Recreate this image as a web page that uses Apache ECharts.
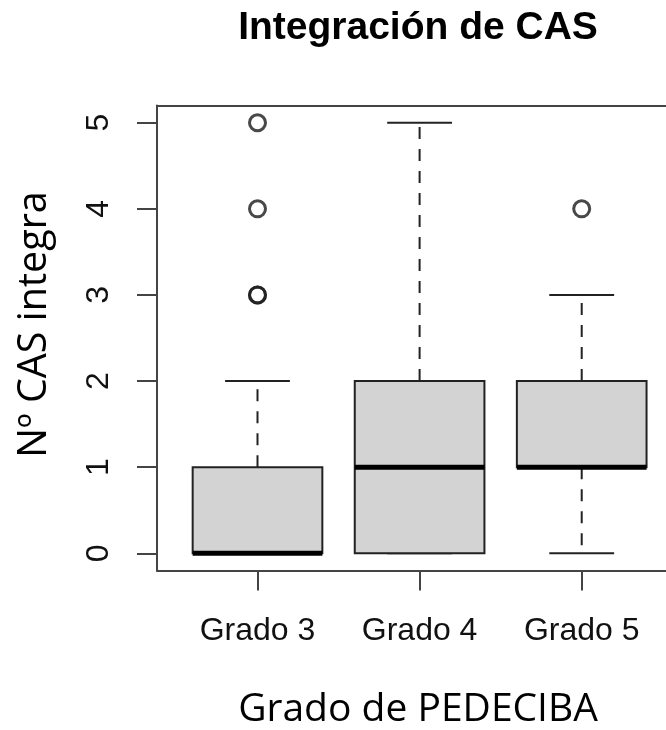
<!DOCTYPE html>
<html>
<head>
<meta charset="utf-8">
<script src="https://cdn.jsdelivr.net/npm/echarts@6/dist/echarts.min.js"></script>
<style>html,body{margin:0;padding:0;background:#fff}#c{width:666px;height:730px}</style>
</head>
<body>
<div id="c"></div>
<script>
// ---- data ----
const categories = ['Grado 3', 'Grado 4', 'Grado 5'];
const lowerWhisker = [0, 0, 0];
const q1 = [0, 0, 1];
const median = [0, 1, 1];
const q3 = [1, 2, 2];
const upperWhisker = [2, 5, 3];
const outliers = [[3, 3, 4, 5], [], [4]];
const yTicks = [0, 1, 2, 3, 4, 5];
const xTicks = [1, 2, 3];
const titleText = 'Integración de CAS';
const xTitle = 'Grado de PEDECIBA';
const yTitle = 'Nº CAS integra';

const boxData = categories.map((c, i) => [i + 1, lowerWhisker[i], q1[i], median[i], q3[i], upperWhisker[i]]);
const outlierData = [];
outliers.forEach((arr, i) => arr.forEach(v => outlierData.push([i + 1, v])));

const chart = echarts.init(document.getElementById('c'), null, {renderer: 'canvas'});
const lineCol = '#222';
const frameCol = '#444';

function renderBox(params, api) {
  const x = api.value(0);
  const lo = api.coord([x, api.value(1)]);
  const b1 = api.coord([x, api.value(2)]);
  const md = api.coord([x, api.value(3)]);
  const b3 = api.coord([x, api.value(4)]);
  const hi = api.coord([x, api.value(5)]);
  const bw = api.size([0.8, 0])[0];
  const cw = api.size([0.4, 0])[0];
  const cx = lo[0];
  const dash = {stroke: lineCol, lineWidth: 2, lineDash: [12, 10]};
  const solid = {stroke: lineCol, lineWidth: 2};
  return {
    type: 'group',
    children: [
      {type: 'line', shape: {x1: cx, y1: b3[1], x2: cx, y2: hi[1]}, style: dash},
      {type: 'line', shape: {x1: cx, y1: b1[1], x2: cx, y2: lo[1]}, style: dash},
      {type: 'line', shape: {x1: cx - cw / 2, y1: hi[1], x2: cx + cw / 2, y2: hi[1]}, style: solid},
      {type: 'line', shape: {x1: cx - cw / 2, y1: lo[1], x2: cx + cw / 2, y2: lo[1]}, style: solid},
      {type: 'rect', shape: {x: cx - bw / 2, y: b3[1], width: bw, height: b1[1] - b3[1]},
        style: {fill: '#d3d3d3', stroke: lineCol, lineWidth: 2}},
      {type: 'line', shape: {x1: cx - bw / 2, y1: md[1], x2: cx + bw / 2, y2: md[1]},
        style: {stroke: '#000', lineWidth: 5}}
    ]
  };
}

const option = {
  backgroundColor: '#fff',
  animation: false,
  grid: {left: 157, right: 0, top: 105.5, bottom: 159.5, containLabel: false},
  xAxis: [{
    type: 'value', min: 0.38, max: 3.52,
    axisLine: {show: true, onZero: false, lineStyle: {color: frameCol, width: 2}},
    axisTick: {show: true, customValues: xTicks, length: 20, lineStyle: {color: frameCol, width: 2}},
    axisLabel: {show: true, customValues: xTicks, margin: 45,
      formatter: v => categories[Math.round(v) - 1],
      fontFamily: 'Liberation Sans', fontSize: 32, color: '#111'},
    splitLine: {show: false}
  }, {
    type: 'value', min: 0.38, max: 3.52, position: 'top',
    axisLine: {show: true, onZero: false, lineStyle: {color: frameCol, width: 2}},
    axisTick: {show: false}, axisLabel: {show: false}, splitLine: {show: false}
  }],
  yAxis: {
    type: 'value', min: -0.2, max: 5.2,
    axisLine: {show: true, onZero: false, lineStyle: {color: frameCol, width: 2}},
    axisTick: {show: true, customValues: yTicks, length: 20, lineStyle: {color: frameCol, width: 2}},
    axisLabel: {show: true, customValues: yTicks, rotate: 90, margin: 42,
      fontFamily: 'Liberation Sans', fontSize: 32, color: '#111'},
    splitLine: {show: false}
  },
  series: [{
    type: 'custom',
    renderItem: renderBox,
    data: boxData,
    encode: {x: 0, y: [1, 2, 3, 4, 5]},
    z: 2
  }, {
    type: 'scatter',
    data: outlierData,
    symbol: 'circle',
    symbolSize: 16,
    itemStyle: {color: 'rgba(255,255,255,0)', borderColor: '#1a1a1a', borderWidth: 3},
    z: 3
  }],
  graphic: [
    {type: 'text', x: 418, y: 28,
      style: {text: titleText, font: 'bold 39px "Liberation Sans"', fill: '#000', align: 'center', verticalAlign: 'middle'}},
    {type: 'text', x: 418, y: 710,
      style: {text: xTitle, font: '39px "Open Sans"', fill: '#000', align: 'center', verticalAlign: 'middle'}},
    {type: 'text', x: 35, y: 324.5, rotation: Math.PI / 2,
      style: {text: yTitle, font: '39.5px "Open Sans"', fill: '#000', align: 'center', verticalAlign: 'middle'}}
  ]
};
chart.setOption(option);
</script>
</body>
</html>
